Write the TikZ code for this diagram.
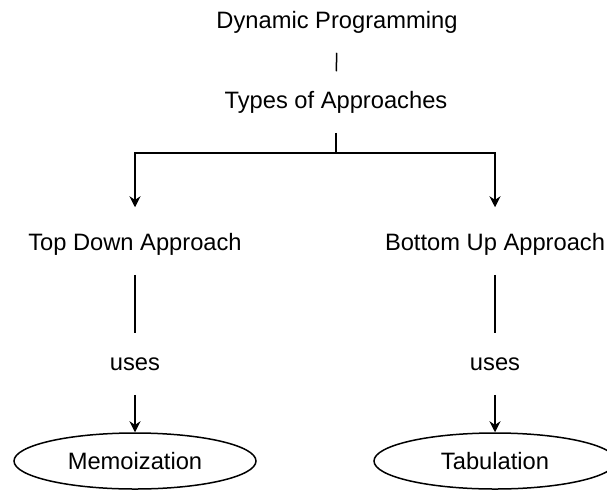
\documentclass[tikz,border=0pt]{standalone}
\usepackage{fontspec}
\setmainfont{Liberation Sans}
\usetikzlibrary{arrows.meta,positioning,shapes.geometric}

\begin{document}
\begin{tikzpicture}[x=1pt, y=-1pt, font=\fontsize{23.7}{28}\selectfont,
  >={Stealth[length=11pt,width=11pt]}, line width=1.5pt,
  lbl/.style={inner sep=0pt, minimum height=60pt, text height=17pt, text depth=5pt},
  oval/.style={draw, ellipse, minimum width=242pt, minimum height=56pt, inner sep=0pt}]
\useasboundingbox (0,0) rectangle (607,490);

\node[lbl] (dp) at (337,22) {Dynamic Programming};
\node[lbl] (types) at (336,102) {Types of Approaches};
\coordinate (split) at (336,153);

\node[lbl] (top) at (135,244) {Top Down Approach};
\node[lbl] (bottom) at (495,244) {Bottom Up Approach};
\node[lbl] (uses1) at (135,364) {uses};
\node[lbl] (uses2) at (495,364) {uses};
\node[oval] (memo) at (135,461) {Memoization};
\node[oval] (tab) at (495,461) {Tabulation};

\draw (dp) -- (types);
\draw (types) -- (split);
\draw[->, shorten >=6pt] (split) -| (top);
\draw[->, shorten >=6pt] (split) -| (bottom);

\draw (top) -- (uses1);
\draw[->] (uses1) -- (memo);
\draw (bottom) -- (uses2);
\draw[->] (uses2) -- (tab);
\end{tikzpicture}
\end{document}
